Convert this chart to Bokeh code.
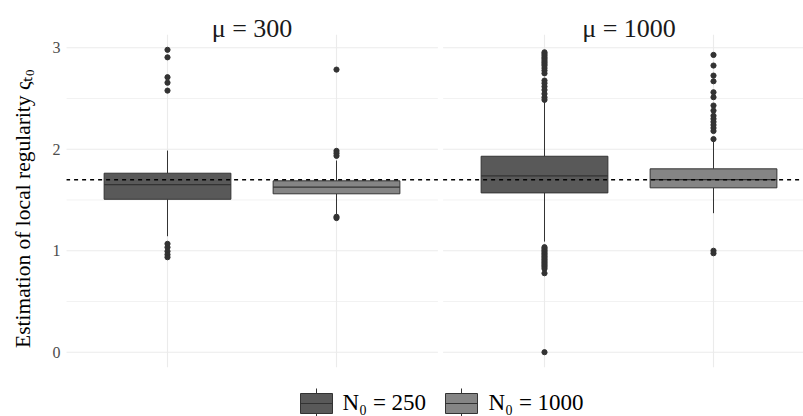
from bokeh.plotting import figure
from bokeh.models import Range1d, FixedTicker, Label
from bokeh.embed import file_html
from bokeh.resources import INLINE

# ---------------- data ----------------
panels = ["μ = 300", "μ = 1000"]
groups = ["N₀ = 250", "N₀ = 1000"]
group_fill = ["#595959", "#858585"]
y_title = "Estimation of local regularity ςₜ₀"

box_panel = [0, 0, 1, 1]
box_group = [0, 1, 0, 1]
q1 = [1.507, 1.561, 1.570, 1.620]
med = [1.652, 1.626, 1.738, 1.701]
q3 = [1.764, 1.689, 1.931, 1.807]
whisk_lo = [1.143, 1.357, 1.090, 1.370]
whisk_hi = [1.987, 1.889, 2.480, 2.080]

out_300_250 = [2.980, 2.906, 2.710, 2.656, 2.578, 1.068, 1.034, 0.995, 0.962, 0.936]
out_300_1000 = [2.785, 1.984, 1.961, 1.935, 1.335, 1.322]
out_1000_250 = [2.956, 2.940, 2.923, 2.905, 2.890, 2.872, 2.857, 2.840, 2.824, 2.800,
                2.775, 2.748, 2.677, 2.651, 2.618, 2.585, 2.546, 2.512, 2.487,
                1.035, 1.020, 1.005, 0.990, 0.975, 0.960, 0.945, 0.930, 0.915,
                0.900, 0.885, 0.870, 0.855, 0.840, 0.822, 0.778, 0.0]
out_1000_1000 = [2.930, 2.825, 2.726, 2.670, 2.562, 2.513, 2.431, 2.381, 2.330,
                 2.300, 2.270, 2.240, 2.210, 2.180, 2.100, 1.000, 0.975]
outliers = [out_300_250, out_300_1000, out_1000_250, out_1000_1000]

reference_value = 1.7
y_ticks = [0, 1, 2, 3]
grid_step = 0.5

# ---------------- layout constants ----------------
FIG_W, FIG_H = 803, 416
LEFT = 66
PX_X = 169.0          # px per category unit
PX_Y = 101.47         # px per y unit
Y0_PAGE = 351.7       # page y of value 0
PANEL1_LEFT_PAGE = 65.6
PANEL_GAP_UNITS = (442.6 - 65.6) / PX_X
BOX_W = 0.75

x_start = 0.4 + (LEFT - PANEL1_LEFT_PAGE) / PX_X
x_end = x_start + (FIG_W - LEFT) / PX_X
y_end = Y0_PAGE / PX_Y
y_start = (Y0_PAGE - FIG_H) / PX_Y


def xp(page_x):
    return x_start + (page_x - LEFT) / PX_X


def yp(page_y):
    return (Y0_PAGE - page_y) / PX_Y


p = figure(width=FIG_W, height=FIG_H, output_backend="svg", toolbar_location=None,
           x_range=Range1d(x_start, x_end), y_range=Range1d(y_start, y_end),
           min_border_left=LEFT, min_border_right=0, min_border_top=0,
           min_border_bottom=0)
p.outline_line_color = None
p.grid.visible = False
p.xaxis.visible = False
p.yaxis.ticker = FixedTicker(ticks=y_ticks)
p.yaxis.axis_line_color = None
p.yaxis.major_tick_line_color = None
p.yaxis.minor_tick_line_color = None
p.yaxis.major_tick_out = 0
p.yaxis.major_tick_in = 0
p.yaxis.major_label_standoff = 6
p.yaxis.major_label_text_font = "Liberation Serif"
p.yaxis.major_label_text_font_size = "16px"
p.yaxis.major_label_text_color = "#4d4d4d"
p.yaxis.axis_label = y_title
p.yaxis.axis_label_text_font = "Liberation Serif"
p.yaxis.axis_label_text_font_style = "normal"
p.yaxis.axis_label_text_font_size = "21.5px"
p.yaxis.axis_label_text_color = "black"
p.yaxis.axis_label_standoff = 15

all_vals = [v for lst in outliers for v in lst] + whisk_lo + whisk_hi
ymin, ymax = min(all_vals), max(all_vals)
pad = 0.05 * (ymax - ymin)
panel_lo, panel_hi = ymin - pad, ymax + pad

# per-panel grid
for pi_ in range(len(panels)):
    off = pi_ * PANEL_GAP_UNITS
    xl, xr = 0.4 + off, len(groups) + 0.6 + off
    n = int(round((max(y_ticks) - min(y_ticks)) / grid_step))
    hs = [min(y_ticks) + k * grid_step for k in range(n + 1)]
    majors = [h for h in hs if h in y_ticks]
    minors = [h for h in hs if h not in y_ticks]
    p.segment(x0=[xl] * len(majors), x1=[xr] * len(majors), y0=majors, y1=majors,
              line_color="#ebebeb", line_width=1.1)
    p.segment(x0=[xl] * len(minors), x1=[xr] * len(minors), y0=minors, y1=minors,
              line_color="#f0f0f0", line_width=0.9)
    gx = [g + 1 + off for g in range(len(groups))]
    p.segment(x0=gx, x1=gx, y0=[panel_lo] * len(gx), y1=[panel_hi] * len(gx),
              line_color="#ebebeb", line_width=1.1)

# boxes
for i in range(len(q1)):
    x = box_group[i] + 1 + box_panel[i] * PANEL_GAP_UNITS
    p.segment(x0=[x, x], x1=[x, x], y0=[q3[i], whisk_lo[i]], y1=[whisk_hi[i], q1[i]],
              line_color="#333333", line_width=1)
    p.quad(left=x - BOX_W / 2, right=x + BOX_W / 2, bottom=q1[i], top=q3[i],
           fill_color=group_fill[box_group[i]], line_color="#333333", line_width=1)
    p.segment(x0=x - BOX_W / 2, x1=x + BOX_W / 2, y0=med[i], y1=med[i],
              line_color="#333333", line_width=1.2)
    p.scatter(x=[x] * len(outliers[i]), y=outliers[i], size=5.2,
              fill_color="#333333", line_color="#333333")

# reference dashed line per panel
for pi_ in range(len(panels)):
    off = pi_ * PANEL_GAP_UNITS
    p.segment(x0=0.4 + off, x1=len(groups) + 0.6 + off, y0=reference_value,
              y1=reference_value, line_color="black", line_width=1.6, line_dash="4 4")

# panel titles
for pi_, name in enumerate(panels):
    off = pi_ * PANEL_GAP_UNITS
    p.add_layout(Label(x=(len(groups) + 1) / 2 + off, y=yp(28), text=name,
                       text_align="center", text_baseline="alphabetic",
                       text_font="Liberation Serif", text_font_size="26px",
                       text_color="#1a1a1a"))

# legend
key_left_page = [300, 445]
text_left_page = [342, 488]
box_top_page, box_bot_page = 393, 413
for g in range(len(groups)):
    xl = xp(key_left_page[g])
    xr = xp(key_left_page[g] + 32)
    xc = (xl + xr) / 2
    p.segment(x0=[xc, xc], x1=[xc, xc], y0=[yp(box_top_page - 5), yp(box_bot_page)],
              y1=[yp(box_top_page), yp(box_bot_page + 5)], line_color="#333333",
              line_width=1)
    p.quad(left=xl, right=xr, top=yp(box_top_page), bottom=yp(box_bot_page),
           fill_color=group_fill[g], line_color="#333333", line_width=1)
    mid = yp((box_top_page + box_bot_page) / 2)
    p.segment(x0=xl, x1=xr, y0=mid, y1=mid, line_color="#333333", line_width=1.2)
    p.add_layout(Label(x=xp(text_left_page[g]), y=yp(402), text=groups[g],
                       text_align="left", text_baseline="middle",
                       text_font="Liberation Serif", text_font_size="23px",
                       text_color="black"))

open("out.html", "w").write(file_html(p, INLINE))
